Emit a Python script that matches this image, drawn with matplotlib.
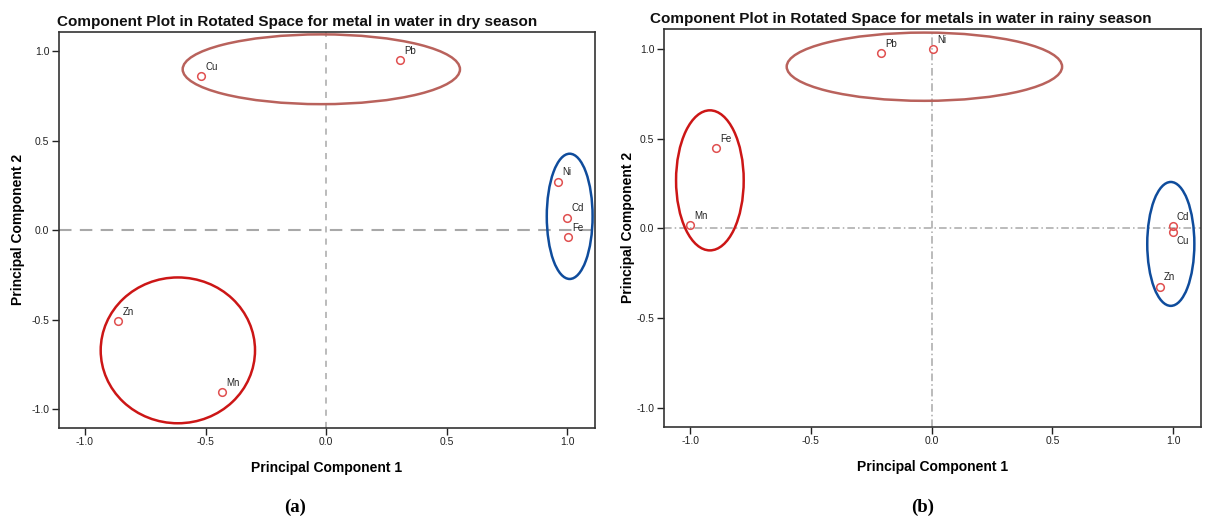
import matplotlib
matplotlib.use("Agg")
import matplotlib.pyplot as plt
from matplotlib.patches import Ellipse

plt.rcParams['font.family'] = ['Liberation Sans', 'DejaVu Sans']

# ---- data: dry season ----
dry_metals = ["Cu", "Pb", "Ni", "Cd", "Fe", "Zn", "Mn"]
dry_pc1 = [-0.517, 0.308, 0.962, 1.000, 1.003, -0.862, -0.433]
dry_pc2 = [0.860, 0.953, 0.272, 0.071, -0.037, -0.506, -0.903]
dry_label_pos = ["ur", "ur", "ur", "ur", "ur", "ur", "ur"]

# ---- data: rainy season ----
rainy_metals = ["Pb", "Ni", "Fe", "Mn", "Cd", "Cu", "Zn"]
rainy_pc1 = [-0.211, 0.005, -0.893, -1.000, 0.998, 0.998, 0.944]
rainy_pc2 = [0.976, 0.998, 0.449, 0.019, 0.011, -0.022, -0.325]
rainy_label_pos = ["ur", "ur", "ur", "ur", "ur", "lr", "ur"]

# ---- cluster ellipses (center x, center y, width, height, colour) ----
dry_ell_cx = [-0.02, 1.01, -0.615]
dry_ell_cy = [0.90, 0.078, -0.671]
dry_ell_w = [1.15, 0.19, 0.64]
dry_ell_h = [0.39, 0.70, 0.815]
dry_ell_col = ["#b9625c", "#0f4c9c", "#cc1616"]

rainy_ell_cx = [-0.03, -0.918, 0.99]
rainy_ell_cy = [0.90, 0.267, -0.087]
rainy_ell_w = [1.14, 0.28, 0.195]
rainy_ell_h = [0.38, 0.78, 0.69]
rainy_ell_col = ["#b9625c", "#cc1616", "#0f4c9c"]

ticks = [-1.0, -0.5, 0.0, 0.5, 1.0]
tick_labels = ["-1.0", "-0.5", "0.0", "0.5", "1.0"]

titles = ["Component Plot in Rotated Space for metal in water in dry season",
          "Component Plot in Rotated Space for metals in water in rainy season"]
panel_tags = ["(a)", "(b)"]

W, H = 1209, 517
fig = plt.figure(figsize=(W / 100, H / 100), dpi=100)

ax1 = fig.add_axes([58.5 / W, 1 - 428 / H, (595 - 58.5) / W, (428 - 31.7) / H])
ax2 = fig.add_axes([663.5 / W, 1 - 426.7 / H, (1201 - 663.5) / W, (426.7 - 29) / H])


def draw(ax, metals, pc1, pc2, lpos, ecx, ecy, ew, eh, ecol, title, title_dx, style, ypad):
    ax.set_xlim(-1.11, 1.115)
    ax.set_ylim(-1.105, 1.11)
    if style == "dash":
        ax.axhline(0, color="#a8a8a8", lw=1.5, dashes=(6, 4), zorder=1)
        ax.axvline(0, color="#a8a8a8", lw=1.1, dashes=(4, 4), zorder=1)
    else:
        ax.axhline(0, color="#a8a8a8", lw=1.1, dashes=(5, 2, 1, 2), zorder=1)
        ax.axvline(0, color="#a8a8a8", lw=1.1, dashes=(5, 2, 1, 2), zorder=1)
    for cx, cy, w, h, c in zip(ecx, ecy, ew, eh, ecol):
        ax.add_patch(Ellipse((cx, cy), w, h, fill=False, edgecolor=c, lw=1.8, zorder=2))
    ax.plot(pc1, pc2, linestyle="none", marker="o", markersize=5.5,
            markerfacecolor="none", markeredgecolor="#e05050", markeredgewidth=1.1, zorder=3)
    for m, x, y, p in zip(metals, pc1, pc2, lpos):
        if p == "ur":
            ax.annotate(m, (x, y), xytext=(3, 3), textcoords="offset points",
                        ha="left", va="bottom", fontsize=7, color="#222222")
        else:
            ax.annotate(m, (x, y), xytext=(3, -3), textcoords="offset points",
                        ha="left", va="top", fontsize=7, color="#222222")
    ax.set_xticks(ticks)
    ax.set_xticklabels(tick_labels)
    ax.set_yticks(ticks)
    ax.set_yticklabels(tick_labels)
    ax.tick_params(axis="both", direction="out", length=5, width=1, labelsize=7.5, pad=1.5,
                   colors="#222222")
    for s in ax.spines.values():
        s.set_linewidth(1.2)
        s.set_color("#333333")
    ax.set_xlabel("Principal Component 1", fontsize=10, fontweight="bold", labelpad=10)
    ax.set_ylabel("Principal Component 2", fontsize=10, fontweight="bold", labelpad=ypad)
    ax.text(title_dx, 1.008, title, transform=ax.transAxes, ha="left", va="bottom",
            fontsize=11, fontweight="bold", color="#111111")


draw(ax1, dry_metals, dry_pc1, dry_pc2, dry_label_pos, dry_ell_cx, dry_ell_cy,
     dry_ell_w, dry_ell_h, dry_ell_col, titles[0], -0.003, "dash", 5)
draw(ax2, rainy_metals, rainy_pc1, rainy_pc2, rainy_label_pos, rainy_ell_cx, rainy_ell_cy,
     rainy_ell_w, rainy_ell_h, rainy_ell_col, titles[1], -0.025, "dashdot", 1)

fig.text(295 / W, 1 - 507 / H, panel_tags[0], ha="center", va="center", fontsize=13.5,
         fontweight="bold", family=["Liberation Serif", "DejaVu Serif"])
fig.text(923 / W, 1 - 507 / H, panel_tags[1], ha="center", va="center", fontsize=13.5,
         fontweight="bold", family=["Liberation Serif", "DejaVu Serif"])

fig.savefig("out.png", dpi=100)
